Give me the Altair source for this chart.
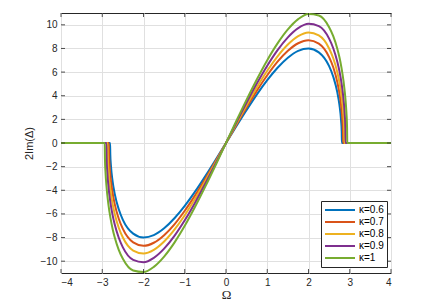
import altair as alt
import pandas as pd

# kappa labels and colours (MATLAB default order)
labels = ["κ=0.6", "κ=0.7", "κ=0.8", "κ=0.9", "κ=1"]
colors = ["#0072BD", "#D95319", "#EDB120", "#7E2F8E", "#77AC30"]

# Omega positions (positive half) and 2Im(Delta) values
om_06 = [0, 0.25, 0.5, 0.75, 1.0, 1.25, 1.5, 1.75, 2.0, 2.25, 2.5, 2.6, 2.7, 2.75, 2.79, 2.805, 2.81]
val_06 = [0, 1.42, 2.80, 4.12, 5.32, 6.37, 7.22, 7.80, 8.00, 7.67, 6.50, 5.61, 4.26, 3.22, 1.89, 0.95, 0]

om_07 = [0, 0.25, 0.5, 0.75, 1.0, 1.25, 1.5, 1.75, 2.0, 2.25, 2.5, 2.6, 2.7, 2.75, 2.8, 2.82, 2.835, 2.84]
val_07 = [0, 1.53, 3.02, 4.43, 5.73, 6.88, 7.80, 8.44, 8.70, 8.41, 7.27, 6.41, 5.13, 4.21, 2.87, 2.05, 1.03, 0]

om_08 = [0, 0.25, 0.5, 0.75, 1.0, 1.25, 1.5, 1.75, 2.0, 2.25, 2.5, 2.6, 2.7, 2.75, 2.8, 2.85, 2.865, 2.87]
val_08 = [0, 1.62, 3.21, 4.72, 6.11, 7.33, 8.33, 9.04, 9.35, 9.10, 8.00, 7.17, 5.97, 5.13, 4.00, 2.19, 1.10, 0]

om_09 = [0, 0.25, 0.5, 0.75, 1.0, 1.25, 1.5, 1.75, 2.0, 2.25, 2.5, 2.6, 2.7, 2.75, 2.8, 2.85, 2.88, 2.895, 2.9]
val_09 = [0, 1.74, 3.43, 5.05, 6.54, 7.86, 8.94, 9.72, 10.09, 9.89, 8.83, 8.02, 6.86, 6.08, 5.08, 3.67, 2.35, 1.18, 0]

om_10 = [0, 0.25, 0.5, 0.75, 1.0, 1.25, 1.5, 1.75, 2.0, 2.25, 2.5, 2.6, 2.7, 2.75, 2.8, 2.85, 2.9, 2.92, 2.935, 2.94]
val_10 = [0, 1.86, 3.67, 5.40, 7.01, 8.43, 9.61, 10.48, 10.92, 10.79, 9.80, 9.04, 7.96, 7.25, 6.36, 5.21, 3.55, 2.53, 1.28, 0]

flat_om = [3, 3.5, 4]          # zero plateau beyond the cut-off

x_ticks = [-4, -3, -2, -1, 0, 1, 2, 3, 4]
y_ticks = [-10, -8, -6, -4, -2, 0, 2, 4, 6, 8, 10]

series = [om_06, om_07, om_08, om_09, om_10]
values = [val_06, val_07, val_08, val_09, val_10]

rows = []
for k, (lab, oms, vs) in enumerate(zip(labels, series, values)):
    pts = []
    for o in reversed(flat_om):
        pts.append((-o, 0.0))
    for o, v in zip(reversed(oms[1:]), reversed(vs[1:])):
        pts.append((-o, -v))
    for o, v in zip(oms, vs):
        pts.append((o, v))
    for o in flat_om:
        pts.append((o, 0.0))
    for i, (o, v) in enumerate(pts):
        rows.append({"Omega": o, "val": v, "kappa": lab, "ord": k, "i": i})
df = pd.DataFrame(rows)

W, H = 330, 260
TXT = "#262626"
xscale = alt.Scale(domain=[-4, 4], nice=False, zero=False)
yscale = alt.Scale(domain=[-11, 11], nice=False, zero=False)

x_axis = alt.Axis(values=x_ticks, title="Ω", ticks=False, labelPadding=4,
                  titleFont="Liberation Serif", titleFontSize=13,
                  titleFontWeight="normal", titlePadding=1, format="d")
y_axis = alt.Axis(values=y_ticks, title="2Im(Δ)", ticks=False, labelPadding=4,
                  titleFontWeight="normal", titleFontSize=11, titlePadding=6,
                  format="d")

lines = alt.Chart(df).mark_line(strokeWidth=2, interpolate="monotone").encode(
    x=alt.X("Omega:Q", scale=xscale, axis=x_axis),
    y=alt.Y("val:Q", scale=yscale, axis=y_axis),
    color=alt.Color("kappa:N", scale=alt.Scale(domain=labels, range=colors),
                    legend=alt.Legend(title=None, orient="none", legendX=260, legendY=188,
                                      symbolType="stroke", symbolSize=900,
                                      symbolStrokeWidth=2, labelFontSize=10,
                                      labelColor="black", labelOffset=3,
                                      clipHeight=12, rowPadding=0, padding=3,
                                      strokeColor=TXT, fillColor="white")),
    order="i:Q",
    detail="ord:N",
)

xt = pd.DataFrame({"Omega": x_ticks})
yt = pd.DataFrame({"val": y_ticks})
tl = 4
bx = alt.Chart(xt).mark_rule(color=TXT, strokeWidth=0.8).encode(
    x=alt.X("Omega:Q", scale=xscale, axis=x_axis), y=alt.value(H), y2=alt.value(H - tl))
tx = alt.Chart(xt).mark_rule(color=TXT, strokeWidth=0.8).encode(
    x=alt.X("Omega:Q", scale=xscale, axis=x_axis), y=alt.value(0), y2=alt.value(tl))
ly = alt.Chart(yt).mark_rule(color=TXT, strokeWidth=0.8).encode(
    y=alt.Y("val:Q", scale=yscale, axis=y_axis), x=alt.value(0), x2=alt.value(tl))
ry = alt.Chart(yt).mark_rule(color=TXT, strokeWidth=0.8).encode(
    y=alt.Y("val:Q", scale=yscale, axis=y_axis), x=alt.value(W), x2=alt.value(W - tl))

chart = alt.layer(lines, bx, tx, ly, ry).properties(
    width=W, height=H,
    autosize=alt.AutoSizeParams(type="none"),
    padding={"left": 53, "top": 5, "right": 23, "bottom": 34},
).configure(font="Liberation Sans").configure_view(
    stroke=TXT, strokeWidth=1
).configure_axis(
    grid=True, gridColor="#e0e0e0", gridWidth=1, domain=False,
    labelColor=TXT, labelFontSize=10, titleColor=TXT, labelFont="Liberation Sans",
)

chart.save("out.html", embed_options={"renderer": "svg", "actions": False})
